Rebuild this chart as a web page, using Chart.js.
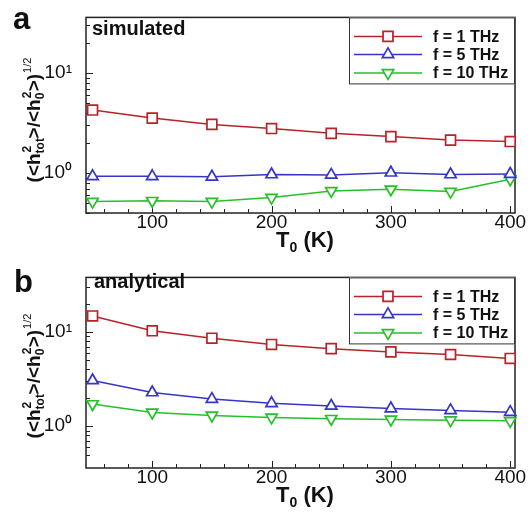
<!DOCTYPE html>
<html><head><meta charset="utf-8">
<script src="https://cdn.jsdelivr.net/npm/chart.js@4/dist/chart.umd.min.js"></script>
<style>
html,body{margin:0;padding:0;background:#fff;}
#wrap{position:relative;width:530px;height:520px;overflow:hidden;font-family:"Liberation Sans",Arial,sans-serif;color:#111;}
canvas{position:absolute;left:0;}
.lbl{position:absolute;white-space:nowrap;line-height:1;font-weight:bold;}
.yt{position:absolute;font-weight:bold;font-size:19px;line-height:1;white-space:nowrap;transform:translate(-50%,-50%) rotate(-90deg);}
.st{display:inline-block;position:relative;width:15px;height:15px;}
.st.s0{width:8px;}
.sp{position:absolute;left:1px;top:-4px;font-size:12px;line-height:1;}
.sb{position:absolute;left:0;top:9px;font-size:12px;line-height:1;}
.half{font-size:11px;font-weight:normal;position:relative;top:-9px;margin-left:1px;}
.xt sub{font-size:14px;vertical-align:-5px;line-height:0;}
</style></head>
<body><div id="wrap">
<canvas id="ca" width="530" height="260" style="top:0"></canvas>
<canvas id="cb" width="530" height="260" style="top:260px"></canvas>
<div class="lbl" style="left:13px;top:3px;font-size:31px">a</div>
<div class="lbl" style="left:14px;top:266px;font-size:31px">b</div>
<div class="lbl" style="left:92px;top:18px;font-size:20px">simulated</div>
<div class="lbl" style="left:94px;top:271px;font-size:20px">analytical</div>
<div class="yt" style="left:33px;top:120px">(&lt;h<span class="st"><span class="sp">2</span><span class="sb">tot</span></span>&gt;/&lt;h<span class="st s0"><span class="sp">2</span><span class="sb">0</span></span>&gt;)<span class="half">1/2</span></div>
<div class="yt" style="left:33px;top:376px">(&lt;h<span class="st"><span class="sp">2</span><span class="sb">tot</span></span>&gt;/&lt;h<span class="st s0"><span class="sp">2</span><span class="sb">0</span></span>&gt;)<span class="half">1/2</span></div>
<div class="lbl xt" style="left:305px;top:229px;font-size:22px;transform:translateX(-50%)">T<sub>0</sub> (K)</div>
<div class="lbl xt" style="left:305px;top:484px;font-size:22px;transform:translateX(-50%)">T<sub>0</sub> (K)</div>
</div>
<script>
// ---- data ----
const temps = [50, 100, 150, 200, 250, 300, 350, 400];
const simF1  = [4.27, 3.55, 3.07, 2.79, 2.50, 2.32, 2.14, 2.07];
const simF5  = [0.93, 0.93, 0.92, 0.97, 0.96, 1.01, 0.97, 0.98];
const simF10 = [0.52, 0.53, 0.52, 0.57, 0.665, 0.69, 0.655, 0.87];
const anaF1  = [14.8, 10.3, 8.6, 7.38, 6.66, 6.15, 5.77, 5.24];
const anaF5  = [3.06, 2.28, 1.94, 1.75, 1.64, 1.54, 1.47, 1.41];
const anaF10 = [1.72, 1.40, 1.30, 1.24, 1.20, 1.18, 1.16, 1.14];
const seriesLabels = ['f = 1 THz', 'f = 5 THz', 'f = 10 THz'];
const xTickValues = [100, 200, 300, 400];
const yTickLabels = ['10\u2070', '10\u00B9'];

const colors = ['#B82228', '#3535C8', '#26C02A'];
const styles = [['rect', 0], ['triangle', 0], ['triangle', 180]];

function makeDs(i, vals) {
  return {
    label: seriesLabels[i],
    data: temps.map((t, k) => ({x: t, y: vals[k]})),
    borderColor: colors[i], backgroundColor: '#fff',
    pointStyle: styles[i][0], pointRotation: styles[i][1],
    pointRadius: i === 0 ? 7 : 6.5, pointBorderWidth: 1.7,
    pointBackgroundColor: '#fff', pointBorderColor: colors[i],
    borderWidth: 1.5, tension: 0, clip: false
  };
}

function line(ctx, x1, y1, x2, y2) { ctx.beginPath(); ctx.moveTo(x1, y1); ctx.lineTo(x2, y2); ctx.stroke(); }

const framePlugin = {
  id: 'frame',
  beforeDatasetsDraw(chart) {
    const {ctx, chartArea: a, scales: {x, y}} = chart;
    ctx.save();
    ctx.strokeStyle = '#222'; ctx.lineWidth = 1;
    x.ticks.forEach(t => {
      const v = t.value;
      if (v < x.min || v > x.max) return;
      if (Math.abs(v / 20 - Math.round(v / 20)) > 1e-6) return;
      const px = Math.round(x.getPixelForValue(v)) + 0.5;
      line(ctx, px, a.bottom, px, a.bottom - (v % 100 === 0 ? 7 : 4));
    });
    y.ticks.forEach(t => {
      const v = t.value;
      if (v < y.min || v > y.max) return;
      const e = Math.floor(Math.log10(v) + 1e-9);
      const s = v / Math.pow(10, e);
      if (Math.abs(s - Math.round(s)) > 1e-6) return;
      const py = Math.round(y.getPixelForValue(v)) + 0.5;
      line(ctx, a.left, py, a.left + (Math.round(s) === 1 ? 7 : 4), py);
    });
    ctx.lineWidth = 1.5;
    ctx.strokeRect(a.left, a.top, a.right - a.left, a.bottom - a.top);
    ctx.restore();
  },
  afterDraw(chart) {
    const {ctx, chartArea: a} = chart;
    const bx = a.right - 166, by = a.top, bw = 166, bh = 67;
    ctx.save();
    ctx.fillStyle = '#fff';
    ctx.fillRect(bx, by, bw, bh);
    ctx.strokeStyle = '#333'; ctx.lineWidth = 1;
    ctx.strokeRect(bx + 0.5, by + 0.5, bw - 1, bh - 1);
    const rows = [19, 37, 55.5];
    chart.data.datasets.forEach((d, i) => {
      const yy = by + rows[i];
      ctx.strokeStyle = d.borderColor; ctx.lineWidth = d.borderWidth;
      line(ctx, bx + 5, yy, bx + 73, yy);
      ctx.fillStyle = '#fff'; ctx.strokeStyle = d.borderColor;
      ctx.lineWidth = d.pointBorderWidth;
      Chart.helpers.drawPoint(ctx, {pointStyle: d.pointStyle, rotation: d.pointRotation, radius: d.pointRadius, borderWidth: d.pointBorderWidth}, bx + 39, yy);
      ctx.fillStyle = '#111';
      ctx.font = 'bold 16px "Liberation Sans", Arial, sans-serif';
      ctx.textBaseline = 'middle'; ctx.textAlign = 'left';
      ctx.fillText(d.label, bx + 84, yy + 1);
    });
    ctx.restore();
  }
};

function makeChart(id, sets, ymin, ymax, top) {
  return new Chart(document.getElementById(id), {
    type: 'line',
    data: {datasets: sets},
    options: {
      responsive: false, animation: false, devicePixelRatio: 1, events: [],
      layout: {padding: {top: top, right: 15, left: 0, bottom: 0}},
      plugins: {legend: {display: false}, tooltip: {enabled: false}},
      scales: {
        x: {
          type: 'linear', min: 44.5, max: 404,
          grid: {display: false}, border: {display: false},
          afterFit: s => { s.height = 260 - top - 196; },
          ticks: {
            stepSize: 20, includeBounds: false, autoSkip: false, maxRotation: 0, padding: -10, color: '#111',
            font: {family: '"Liberation Sans", Arial, sans-serif', size: 19},
            callback: v => xTickValues.includes(v) ? String(v) : ''
          }
        },
        y: {
          type: 'logarithmic', min: ymin, max: ymax,
          grid: {display: false}, border: {display: false},
          afterFit: s => { s.width = 86; },
          ticks: {
            autoSkip: false, padding: 6, color: '#111',
            font: {family: '"Liberation Sans", Arial, sans-serif', size: 19},
            callback: v => Math.abs(v - 1) < 1e-9 ? yTickLabels[0] : (Math.abs(v - 10) < 1e-9 ? yTickLabels[1] : '')
          }
        }
      }
    },
    plugins: [framePlugin]
  });
}

makeChart('ca', [makeDs(0, simF1), makeDs(1, simF5), makeDs(2, simF10)], 0.4, 36, 17);
makeChart('cb', [makeDs(0, anaF1), makeDs(1, anaF5), makeDs(2, anaF10)], 0.36, 38, 12);
</script>
</body></html>
